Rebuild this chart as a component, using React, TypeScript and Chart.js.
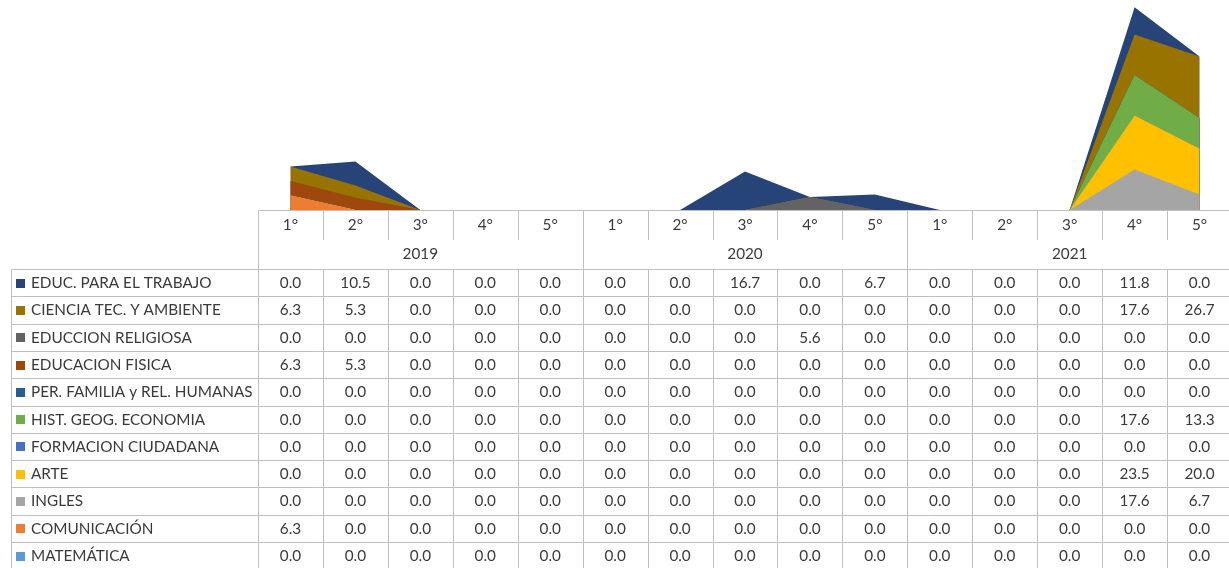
import React, { useEffect, useRef } from 'react';
import { Chart, registerables } from 'chart.js';

Chart.register(...registerables);

const grades = ['1°', '2°', '3°', '4°', '5°'];
const years = ['2019', '2020', '2021'];
const categories = years.flatMap((y) => grades.map((g) => `${g} ${y}`));

// Table order (top row first); stacking is the reverse (last row at the bottom)
const subjects = [
  'EDUC. PARA EL TRABAJO',
  'CIENCIA TEC. Y AMBIENTE',
  'EDUCCION RELIGIOSA',
  'EDUCACION FISICA',
  'PER. FAMILIA y REL. HUMANAS',
  'HIST. GEOG. ECONOMIA',
  'FORMACION CIUDADANA',
  'ARTE',
  'INGLES',
  'COMUNICACIÓN',
  'MATEMÁTICA',
];

const educTrabajo = [0, 10.5, 0, 0, 0, 0, 0, 16.7, 0, 6.7, 0, 0, 0, 11.8, 0];
const cienciaTec = [6.3, 5.3, 0, 0, 0, 0, 0, 0, 0, 0, 0, 0, 0, 17.6, 26.7];
const religiosa = [0, 0, 0, 0, 0, 0, 0, 0, 5.6, 0, 0, 0, 0, 0, 0];
const fisica = [6.3, 5.3, 0, 0, 0, 0, 0, 0, 0, 0, 0, 0, 0, 0, 0];
const familia = [0, 0, 0, 0, 0, 0, 0, 0, 0, 0, 0, 0, 0, 0, 0];
const historia = [0, 0, 0, 0, 0, 0, 0, 0, 0, 0, 0, 0, 0, 17.6, 13.3];
const formacion = [0, 0, 0, 0, 0, 0, 0, 0, 0, 0, 0, 0, 0, 0, 0];
const arte = [0, 0, 0, 0, 0, 0, 0, 0, 0, 0, 0, 0, 0, 23.5, 20.0];
const ingles = [0, 0, 0, 0, 0, 0, 0, 0, 0, 0, 0, 0, 0, 17.6, 6.7];
const comunicacion = [6.3, 0, 0, 0, 0, 0, 0, 0, 0, 0, 0, 0, 0, 0, 0];
const matematica = [0, 0, 0, 0, 0, 0, 0, 0, 0, 0, 0, 0, 0, 0, 0];

const seriesValues = [
  educTrabajo, cienciaTec, religiosa, fisica, familia, historia,
  formacion, arte, ingles, comunicacion, matematica,
];

const seriesColors = [
  '#264478', '#997300', '#636363', '#9E480E', '#255E91', '#70AD47',
  '#4472C4', '#FFC000', '#A5A5A5', '#ED7D31', '#5B9BD5',
];

const W = 1240;
const H = 568;
const PLOT_LEFT = 258;
const PLOT_RIGHT = 1232;
const BASE_Y = 210;
const Y_MAX = 90;
const PLOT_TOP = 3;
const HEADER_SPLIT = 240;
const DATA_TOP = 269;
const ROW_H = 27.3;
const LABEL_LEFT = 11;
const FONT = '15.3px Lato, "Noto Sans", sans-serif';
const TEXT_COLOR = '#3a3a3a';
const GRID_COLOR = '#BFBFBF';

const tablePlugin = {
  id: 'dataTable',
  afterDraw(chart: any) {
    const ctx = chart.ctx as CanvasRenderingContext2D;
    const x = chart.scales.x;
    const n = categories.length;
    const colW = x.getPixelForValue(1) - x.getPixelForValue(0);
    const boundary = (i: number) => x.getPixelForValue(0) - colW / 2 + i * colW;
    const px = (v: number) => Math.round(v) + 0.5;
    const rows = subjects.length;
    const bottom = DATA_TOP + rows * ROW_H;

    ctx.save();
    ctx.strokeStyle = GRID_COLOR;
    ctx.lineWidth = 1;
    ctx.beginPath();
    // header top line
    ctx.moveTo(px(boundary(0)), px(BASE_Y));
    ctx.lineTo(px(boundary(n)), px(BASE_Y));
    // data horizontal lines
    for (let r = 0; r <= rows; r++) {
      const y = px(DATA_TOP + r * ROW_H);
      ctx.moveTo(LABEL_LEFT + 0.5, y);
      ctx.lineTo(px(boundary(n)) + 2, y);
    }
    // verticals
    for (let i = 0; i <= n; i++) {
      const bx = px(boundary(i));
      if (i % grades.length === 0) {
        ctx.moveTo(bx, px(BASE_Y));
        ctx.lineTo(bx, bottom);
      } else {
        ctx.moveTo(bx, px(BASE_Y));
        ctx.lineTo(bx, HEADER_SPLIT);
        ctx.moveTo(bx, px(DATA_TOP));
        ctx.lineTo(bx, bottom);
      }
    }
    ctx.moveTo(LABEL_LEFT + 0.5, px(DATA_TOP));
    ctx.lineTo(LABEL_LEFT + 0.5, bottom);
    ctx.stroke();

    ctx.fillStyle = TEXT_COLOR;
    ctx.font = FONT;
    ctx.textAlign = 'center';
    ctx.textBaseline = 'middle';
    for (let i = 0; i < n; i++) {
      ctx.fillText(grades[i % grades.length], x.getPixelForValue(i), 225);
    }
    years.forEach((yr, k) => {
      const cx = (boundary(k * grades.length) + boundary((k + 1) * grades.length)) / 2;
      ctx.fillText(yr, cx, 254.5);
    });

    for (let r = 0; r < rows; r++) {
      const cy = DATA_TOP + r * ROW_H + ROW_H / 2 + 0.5;
      ctx.fillStyle = seriesColors[r];
      ctx.fillRect(16, Math.round(cy - 4.5), 9, 9);
      ctx.fillStyle = TEXT_COLOR;
      ctx.textAlign = 'left';
      ctx.fillText(subjects[r], 31, cy);
      ctx.textAlign = 'center';
      const vals = seriesValues[r];
      for (let i = 0; i < n; i++) {
        ctx.fillText(vals[i].toFixed(1), x.getPixelForValue(i), cy);
      }
    }
    ctx.restore();
  },
};

export default function App() {
  const ref = useRef<HTMLCanvasElement>(null);
  useEffect(() => {
    if (!ref.current) return;
    document.body.style.overflow = 'hidden';
    // stacking: bottom series first
    const order = seriesValues.map((_, i) => i).reverse();
    const chart = new Chart(ref.current, {
      type: 'line',
      data: {
        labels: categories,
        datasets: order.map((i) => ({
          label: subjects[i],
          data: seriesValues[i],
          backgroundColor: seriesColors[i],
          borderColor: seriesColors[i],
          borderWidth: 0,
          pointRadius: 0,
          pointHoverRadius: 0,
          fill: 'origin',
          tension: 0,
        })),
      },
      options: {
        animation: false,
        responsive: false,
        devicePixelRatio: 1,
        layout: {
          padding: {
            left: PLOT_LEFT,
            right: W - PLOT_RIGHT,
            top: PLOT_TOP,
            bottom: H - BASE_Y,
          },
        },
        plugins: {
          legend: { display: false },
          tooltip: { enabled: false },
        },
        scales: {
          x: { display: false, offset: true },
          y: { display: false, stacked: true, min: 0, max: Y_MAX },
        },
      },
      plugins: [tablePlugin],
    });
    return () => chart.destroy();
  }, []);

  return (
    <div style={{ position: 'fixed', left: 0, top: 0, width: W, height: H, background: '#fff' }}>
      <canvas ref={ref} width={W} height={H} style={{ width: W, height: H, display: 'block' }} />
    </div>
  );
}
